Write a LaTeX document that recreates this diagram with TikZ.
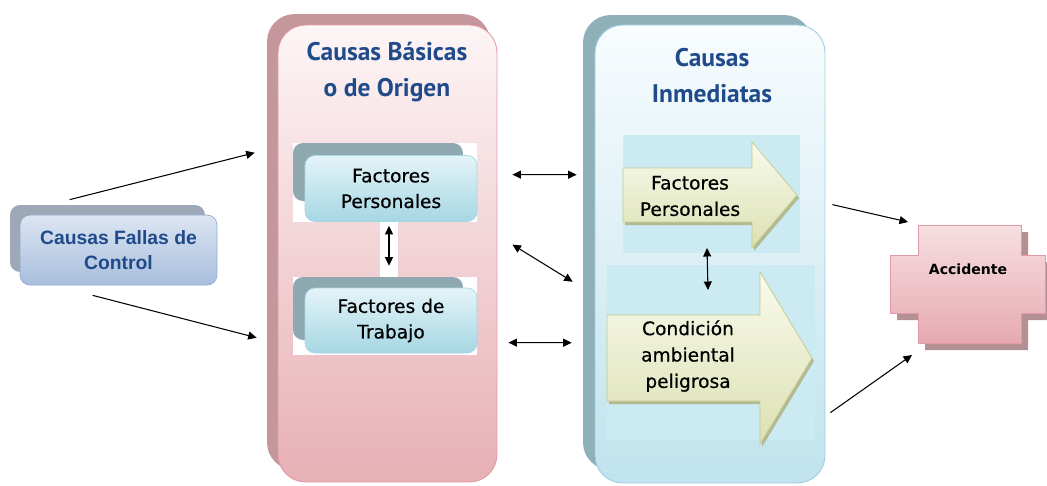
\documentclass[tikz,border=0pt]{standalone}
\usepackage{fontspec}
\setmainfont{DejaVu Sans}
\newfontfamily\titlefont{PT Sans}
\newfontfamily\boxfont{Liberation Sans}
\newfontfamily\innerfont[FakeBold=0.6]{DejaVu Sans}
\usepackage{tikz}
\usetikzlibrary{arrows.meta, calc}

\definecolor{titleblue}{HTML}{1F4B8A}
\definecolor{pinktop}{HTML}{FDF5F6}
\definecolor{pinkbot}{HTML}{E7B0B5}
\definecolor{pinkline}{HTML}{E39AA4}
\definecolor{pinkshadow}{HTML}{C3979C}
\definecolor{bluetop}{HTML}{F8FCFE}
\definecolor{bluebot}{HTML}{C0E3ED}
\definecolor{blueline}{HTML}{9CCFE0}
\definecolor{blueshadow}{HTML}{8FB0B9}
\definecolor{pane}{HTML}{CCEAF2}
\definecolor{cyantop}{HTML}{E4F4F8}
\definecolor{cyanbot}{HTML}{A6D7E4}
\definecolor{cyanshadow}{HTML}{8FA9B1}
\definecolor{steeltop}{HTML}{DCE5F2}
\definecolor{steelbot}{HTML}{A8BEDD}
\definecolor{steelline}{HTML}{8EA9D0}
\definecolor{steelshadow}{HTML}{9DA9B6}
\definecolor{olivetop}{HTML}{F9FAEC}
\definecolor{olivebot}{HTML}{DBE1B3}
\definecolor{oliveline}{HTML}{C3CB8F}
\definecolor{oliveshadow}{HTML}{B3B991}
\definecolor{crosstop}{HTML}{F6DFE2}
\definecolor{crossbot}{HTML}{E6AAB1}
\definecolor{crossshadow}{HTML}{B48F94}

\begin{document}
\begin{tikzpicture}[x=0.02cm, y=-0.02cm,
  link/.style={{Triangle[length=1.7mm, width=1.6mm]}-{Triangle[length=1.7mm, width=1.6mm]}, line width=0.6pt},
  oneway/.style={-{Triangle[length=1.7mm, width=1.6mm]}, line width=0.6pt},
  bigback/.style={rounded corners=5.5mm, inner sep=0pt},
  bigbox/.style={rounded corners=5.5mm, inner sep=0pt, line width=0.5pt},
  smallback/.style={rounded corners=2mm, fill=cyanshadow, inner sep=0pt, minimum width=34mm, minimum height=11.6mm},
  smallbox/.style={rounded corners=2mm, top color=cyantop, bottom color=cyanbot, draw=cyanbot,
    line width=0.4pt, inner sep=0pt, minimum width=34.4mm, minimum height=13.2mm, align=center,
    font=\innerfont\fontsize{10.6}{14.6}\selectfont},
  title/.style={align=center, text=titleblue, font=\titlefont\bfseries\fontsize{14.5}{20.5}\selectfont},
  arrowtext/.style={align=center, font=\innerfont\fontsize{10.6}{15}\selectfont}
]
\useasboundingbox (0,0) rectangle (1047,485);

% left box
\node[rounded corners=2mm, fill=steelshadow, inner sep=0pt, minimum width=39mm, minimum height=13.4mm] (fallasback) at (107.5,238.5) {};
\node[rounded corners=2mm, top color=steeltop, bottom color=steelbot, draw=steelline, line width=0.4pt,
  inner sep=0pt, minimum width=39.4mm, minimum height=14mm, align=center, text=titleblue,
  font=\boxfont\bfseries\fontsize{11}{14}\selectfont] (fallas) at (118.5,250) {Causas Fallas de\\Control};

% basic causes
\node[bigback, fill=pinkshadow, minimum width=44.6mm, minimum height=91.2mm] (basicasback) at (378.5,242) {};
\node[bigbox, top color=pinktop, bottom color=pinkbot, draw=pinkline, minimum width=43.8mm, minimum height=91.4mm] (basicas) at (387.5,253.5) {};
\node[title] (basicastitle) at (387,72) {Causas Básicas\\o de Origen};

\fill[white] (293,143) rectangle (477,222);
\fill[white] (293,277) rectangle (477,355);
\fill[white] (380,222) rectangle (398,277);
\node[smallback] (persback) at (378,172) {};
\node[smallbox] (pers) at (391,188.5) {Factores\\Personales};
\node[smallback, minimum height=12.6mm] (trabback) at (378,308.5) {};
\node[smallbox, minimum height=13mm] (trab) at (391,320.5) {Factores de\\Trabajo};
\draw[link] ([shift={(-2,4)}]pers.south) -- ([shift={(-2,-22)}]trab.north);

% immediate causes
\node[bigback, fill=blueshadow, minimum width=45.8mm, minimum height=91mm] (inmediatasback) at (697.5,242.5) {};
\node[bigbox, top color=bluetop, bottom color=bluebot, draw=blueline, minimum width=46mm, minimum height=91.6mm] (inmediatas) at (710,254) {};
\node[title] (inmediatastitle) at (712,76) {Causas\\Inmediatas};

\fill[pane] (623,135) rectangle (800,253);
\fill[pane] (607,265) rectangle (815,440);

\fill[oliveshadow, shift={(2,3)}] (623,168) -- (752,168) -- (752,142) -- (797,195) -- (752,248) -- (752,222) -- (623,222) -- cycle;
\draw[top color=olivetop, bottom color=olivebot, draw=oliveline, line width=0.4pt]
  (623,168) -- (752,168) -- (752,142) -- (797,195) -- (752,248) -- (752,222) -- (623,222) -- cycle;
\node[arrowtext] (persinm) at (690,196) {Factores\\Personales};

\fill[oliveshadow, shift={(2,3)}] (607,315) -- (760,315) -- (760,272) -- (812,358) -- (760,444) -- (760,401) -- (607,401) -- cycle;
\draw[top color=olivetop, bottom color=olivebot, draw=oliveline, line width=0.4pt]
  (607,315) -- (760,315) -- (760,272) -- (812,358) -- (760,444) -- (760,401) -- (607,401) -- cycle;
\node[arrowtext] (condicion) at (688,356) {Condición\\ambiental\\peligrosa};

\draw[link] ([shift={(17,52)}]persinm.center) -- ([shift={(20,-66)}]condicion.center);

% accident
\fill[crossshadow, shift={(7,7)}] (918,225) -- (1021,225) -- (1021,255) -- (1045,255) -- (1045,313) -- (1021,313)
  -- (1021,343) -- (918,343) -- (918,313) -- (890,313) -- (890,255) -- (918,255) -- cycle;
\draw[top color=crosstop, bottom color=crossbot, draw=pinkline, line width=0.4pt]
  (918,225) -- (1021,225) -- (1021,255) -- (1045,255) -- (1045,313) -- (1021,313)
  -- (1021,343) -- (918,343) -- (918,313) -- (890,313) -- (890,255) -- (918,255) -- cycle;
\node[font=\bfseries\fontsize{8}{10}\selectfont] (accidente) at (968,269) {Accidente};

% connectors
\draw[oneway] ([shift={(50,-15)}]fallas.north west) -- ([shift={(-12,139)}]basicasback.north west);
\draw[oneway] ([shift={(73,10)}]fallas.south west) -- ([shift={(-10,324)}]basicasback.north west);
\draw[link] ([shift={(15,150)}]basicas.north east) -- ([shift={(-6,160)}]inmediatasback.north west);
\draw[link] ([shift={(15,220)}]basicas.north east) -- ([shift={(-10,267)}]inmediatasback.north west);
\draw[link] ([shift={(11,318)}]basicas.north east) -- ([shift={(-11,328)}]inmediatasback.north west);
\draw[oneway] ([shift={(7,180)}]inmediatas.north east) -- ([shift={(-60,-47)}]accidente.center);
\draw[oneway] ([shift={(5,388)}]inmediatas.north east) -- ([shift={(-56,86)}]accidente.center);
\end{tikzpicture}
\end{document}
